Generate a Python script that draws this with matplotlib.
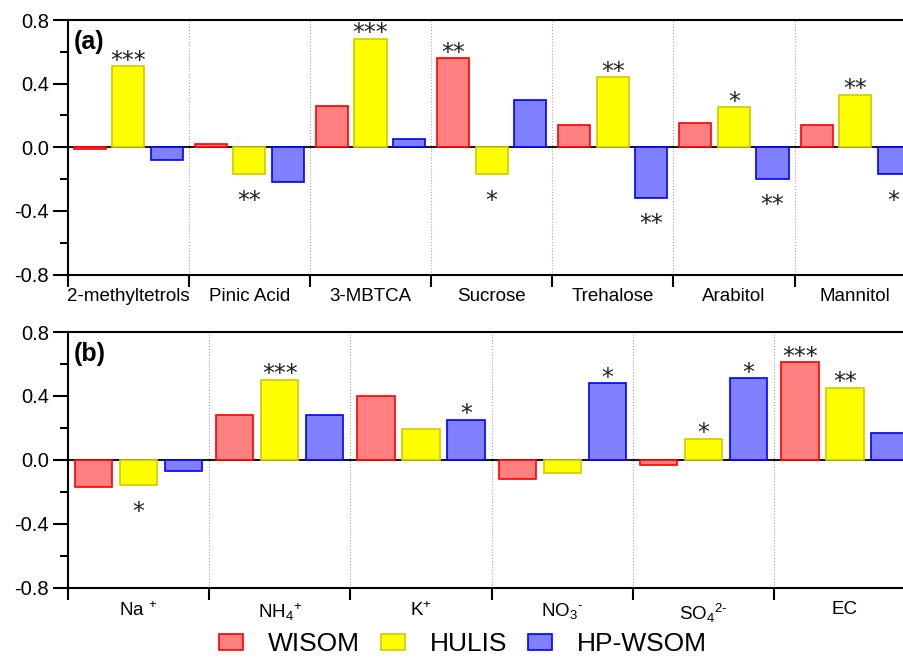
import matplotlib
matplotlib.use("Agg")
import matplotlib.pyplot as plt
import numpy as np

plt.rcParams['font.family'] = ['Liberation Sans', 'DejaVu Sans']
plt.rcParams['mathtext.fontset'] = 'custom'
plt.rcParams['mathtext.rm'] = 'Liberation Sans'
plt.rcParams['mathtext.it'] = 'Liberation Sans:italic'
plt.rcParams['mathtext.bf'] = 'Liberation Sans:bold'

series_names = ['WISOM', 'HULIS', 'HP-WSOM']

a_categories = ['2-methyltetrols', 'Pinic Acid', '3-MBTCA', 'Sucrose', 'Trehalose', 'Arabitol', 'Mannitol']
a_wisom = [-0.01, 0.02, 0.26, 0.56, 0.14, 0.15, 0.14]
a_hulis = [0.51, -0.17, 0.68, -0.17, 0.44, 0.25, 0.33]
a_hpwsom = [-0.08, -0.22, 0.05, 0.30, -0.32, -0.20, -0.17]
a_stars_wisom = ['', '', '', '**', '', '', '']
a_stars_hulis = ['***', '**', '***', '*', '**', '*', '**']
a_stars_hpwsom = ['', '', '', '', '**', '**', '*']

b_categories = ['Na $^{+}$', 'NH$_4$$^{+}$', 'K$^{+}$', 'NO$_3$$^{\\text{-}}$', 'SO$_4$$^{2\\text{-}}$', 'EC']
b_wisom = [-0.17, 0.28, 0.40, -0.12, -0.03, 0.61]
b_hulis = [-0.16, 0.50, 0.19, -0.08, 0.13, 0.45]
b_hpwsom = [-0.07, 0.28, 0.25, 0.48, 0.51, 0.17]
b_stars_wisom = ['', '', '', '', '', '***']
b_stars_hulis = ['*', '***', '', '', '*', '**']
b_stars_hpwsom = ['', '', '*', '*', '*', '']

face_colors = ['#FF8080', '#FFFF00', '#8080FF']
edge_colors = ['#FF0000', '#CCCC00', '#0000FF']

fig = plt.figure(figsize=(9.04, 6.58), dpi=100)
ax_a = fig.add_axes([0.0749, 0.5828, 0.938, 0.3868])
ax_b = fig.add_axes([0.0749, 0.1071, 0.938, 0.3883])

def draw_panel(ax, cats, vals, stars, label):
    n = len(cats)
    x = np.arange(n)
    width = 0.265
    offs = [-0.318, 0.0, 0.318]
    handles = []
    for i in range(3):
        h = ax.bar(x + offs[i], vals[i], width, color=face_colors[i], edgecolor=edge_colors[i],
                   linewidth=1.2, zorder=2, label=series_names[i])
        handles.append(h)
        for j in range(n):
            s = stars[i][j]
            if not s:
                continue
            v = vals[i][j]
            dy = -1.0 if v >= 0 else -24.0
            ax.annotate(s, (x[j] + offs[i], v), xytext=(0, dy), textcoords='offset points',
                        ha='center', va='baseline', fontsize=17, color='#222222',
                        family='DejaVu Sans', zorder=4)
    ax.axhline(0, color='black', lw=1.3, zorder=1)
    for k in range(1, n):
        ax.axvline(k - 0.5, color='#aaaaaa', lw=0.8, ls=':', zorder=0)
    ax.set_xlim(-0.5, n - 0.5)
    ax.set_ylim(-0.8, 0.8)
    ax.set_yticks([-0.8, -0.4, 0.0, 0.4, 0.8])
    ax.set_yticks([-0.6, -0.2, 0.2, 0.6], minor=True)
    ax.set_yticklabels(['-0.8', '-0.4', '0.0', '0.4', '0.8'])
    ax.set_xticks(np.arange(n + 1) - 0.5)
    ax.set_xticklabels([''] * (n + 1))
    ax.set_xticks(x, minor=True)
    ax.set_xticklabels(cats, minor=True)
    ax.tick_params(axis='y', which='major', direction='out', length=10.5, width=1.5,
                   labelsize=14.5, pad=3)
    ax.tick_params(axis='y', which='minor', direction='out', length=5.5, width=1.5)
    ax.tick_params(axis='x', which='major', direction='out', length=8.5, width=1.5)
    ax.tick_params(axis='x', which='minor', length=0, labelsize=13.5, pad=10)
    for sp in ['left', 'bottom', 'top']:
        ax.spines[sp].set_linewidth(1.5)
    ax.spines['right'].set_visible(False)
    ax.text(0.007, 0.915, label, transform=ax.transAxes, fontsize=18, fontweight='bold',
            ha='left', va='center')
    return handles

handles = draw_panel(ax_a, a_categories, [a_wisom, a_hulis, a_hpwsom],
                     [a_stars_wisom, a_stars_hulis, a_stars_hpwsom], '(a)')
draw_panel(ax_b, b_categories, [b_wisom, b_hulis, b_hpwsom],
           [b_stars_wisom, b_stars_hulis, b_stars_hpwsom], '(b)')

fig.legend(handles=handles, labels=series_names, loc='center', bbox_to_anchor=(0.512, 0.021),
           ncol=3, frameon=False, fontsize=19, handlelength=0.9, handleheight=0.6,
           handletextpad=0.95, columnspacing=0.8, borderaxespad=0, borderpad=0)

fig.savefig('out.png', dpi=100)
